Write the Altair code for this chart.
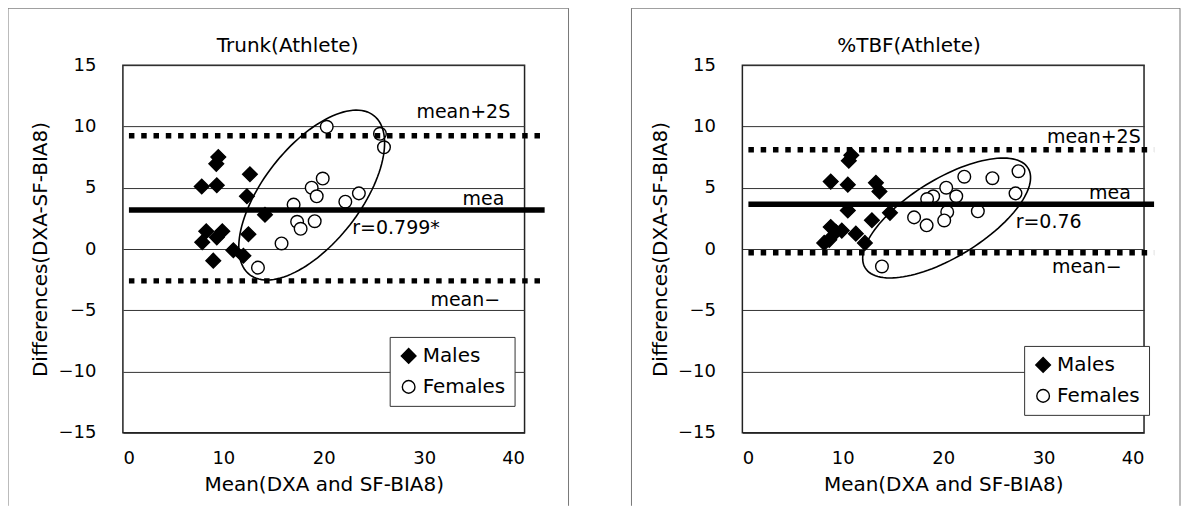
import altair as alt
import numpy as np
import pandas as pd

FONT = "DejaVu Sans"
W, H = 402, 368
X_DOMAIN = [0, 40]
Y_DOMAIN = [-15, 15]
X_TICKS = [0, 10, 20, 30, 40]
Y_TICKS = [-15, -10, -5, 0, 5, 10, 15]
SEX = ["Males", "Females"]

# ---- Trunk(Athlete) ----
trunk_title = "Trunk(Athlete)"
trunk_title_pos = (16.4, 16.6)
trunk_male_x = [7.85, 9.35, 9.3, 9.5, 12.65, 12.35, 14.15, 12.5, 8.3, 7.9, 9.35, 9.9, 9.0, 11.0, 12.0]
trunk_male_y = [5.1, 5.2, 6.95, 7.5, 6.1, 4.3, 2.8, 1.2, 1.45, 0.55, 0.95, 1.45, -0.95, -0.1, -0.55]
trunk_female_x = [20.3, 25.6, 26.0, 19.9, 18.8, 19.3, 17.0, 22.15, 23.5, 17.35, 17.7, 19.1, 15.8, 13.45]
trunk_female_y = [9.97, 9.4, 8.3, 5.75, 5.0, 4.3, 3.62, 3.86, 4.54, 2.22, 1.65, 2.27, 0.45, -1.52]
trunk_mean, trunk_upper, trunk_lower = 3.18, 9.25, -2.6
trunk_notes = ["mean+2S", "mea", "mean\u2212", "r=0.799*"]
trunk_note_x = [33.9, 35.9, 34.1, 27.2]
trunk_note_y = [11.15, 4.1, -4.13, 1.72]

# ---- %TBF(Athlete) ----
tbf_title = "%TBF(Athlete)"
tbf_title_pos = (16.6, 16.6)
tbf_male_x = [8.8, 10.5, 10.6, 10.85, 13.3, 13.65, 10.5, 14.7, 12.9, 8.8, 9.3, 9.9, 11.3, 8.15, 8.65, 12.2]
tbf_male_y = [5.5, 5.25, 7.2, 7.65, 5.4, 4.7, 3.15, 2.95, 2.35, 1.8, 1.4, 1.5, 1.25, 0.5, 0.75, 0.5]
tbf_female_x = [27.5, 24.9, 22.1, 20.3, 21.3, 19.0, 18.4, 27.2, 20.4, 20.1, 23.45, 17.1, 18.35, 13.9]
tbf_female_y = [6.35, 5.78, 5.9, 5.0, 4.3, 4.3, 4.08, 4.54, 3.02, 2.33, 3.08, 2.58, 1.93, -1.42]
tbf_mean, tbf_upper, tbf_lower = 3.65, 8.1, -0.3
tbf_notes = ["mean+2S", "mea", "mean\u2212", "r=0.76"]
tbf_note_x = [35.0, 36.6, 34.3, 30.5]
tbf_note_y = [9.12, 4.58, -1.5, 2.23]


def ellipse_df(cx, cy, a_px, b_px, angle_deg):
    t = np.linspace(0, 2 * np.pi, 121)
    th = np.deg2rad(angle_deg)
    dx = a_px * np.cos(t) * np.cos(th) - b_px * np.sin(t) * np.sin(th)
    dy = a_px * np.cos(t) * np.sin(th) + b_px * np.sin(t) * np.cos(th)
    return pd.DataFrame({"x": cx + dx / (W / 40.0), "y": cy + dy / (H / 30.0), "o": np.arange(len(t))})


def panel(title, title_pos, mx, my, fx, fy, mean, upper, lower, line_x0, line_x1,
          notes, note_x, note_y, ell, leg_x, leg_y, frame_l, frame_r):
    xs = alt.Scale(domain=X_DOMAIN, nice=False, zero=False)
    ys = alt.Scale(domain=Y_DOMAIN, nice=False, zero=False)
    xaxis = alt.Axis(values=X_TICKS, title="Mean(DXA and SF-BIA8)", grid=False, ticks=False,
                     domain=False, labelPadding=17, titlePadding=7)
    yaxis = alt.Axis(values=Y_TICKS, title="Differences(DXA-SF-BIA8)", grid=True, ticks=False,
                     domain=False, labelPadding=27, titlePadding=7)

    def X(f):
        return alt.X(f, scale=xs, axis=xaxis, title="Mean(DXA and SF-BIA8)")

    def Y(f):
        return alt.Y(f, scale=ys, axis=yaxis, title="Differences(DXA-SF-BIA8)")

    pts = pd.DataFrame({
        "x": list(mx) + list(fx),
        "y": list(my) + list(fy),
        "Sex": ["Males"] * len(mx) + ["Females"] * len(fx),
    })
    leg = alt.Legend(title=None, orient="none", legendX=leg_x, legendY=leg_y,
                     direction="vertical", symbolStrokeColor="black", symbolStrokeWidth=1.4)
    points = alt.Chart(pts).mark_point(filled=True, strokeWidth=1.4, opacity=1).encode(
        x=X("x:Q"), y=Y("y:Q"),
        shape=alt.Shape("Sex:N", scale=alt.Scale(domain=SEX, range=["diamond", "circle"]), legend=leg),
        fill=alt.Fill("Sex:N", scale=alt.Scale(domain=SEX, range=["black", "white"]), legend=leg),
        stroke=alt.Stroke("Sex:N", scale=alt.Scale(domain=SEX, range=["black", "black"]), legend=leg),
        size=alt.Size("Sex:N", scale=alt.Scale(domain=SEX, range=[215, 160]), legend=leg),
    )

    lim = pd.DataFrame({"y": [upper, lower], "x": [line_x0, line_x0], "x1": [line_x1, line_x1]})
    limits = alt.Chart(lim).mark_rule(color="black", strokeWidth=5.5, strokeDash=[5.5, 6.8],
                                      strokeCap="butt").encode(x=X("x:Q"), x2="x1:Q", y=Y("y:Q"))
    mn = pd.DataFrame({"y": [mean], "x": [line_x0], "x1": [line_x1]})
    mean_line = alt.Chart(mn).mark_rule(color="black", strokeWidth=5.5).encode(
        x=X("x:Q"), x2="x1:Q", y=Y("y:Q"))

    ell_line = alt.Chart(ellipse_df(*ell)).mark_line(color="black", strokeWidth=1.6).encode(
        x=X("x:Q"), y=Y("y:Q"), order="o:Q")

    nt = pd.DataFrame({"t": notes, "x": note_x, "y": note_y})
    texts = alt.Chart(nt).mark_text(font=FONT, fontSize=19, color="black", align="center",
                                    baseline="middle").encode(x=X("x:Q"), y=Y("y:Q"), text="t:N")

    tt = pd.DataFrame({"t": [title], "x": [title_pos[0]], "y": [title_pos[1]]})
    title_mark = alt.Chart(tt).mark_text(font=FONT, fontSize=20, color="black", align="center",
                                         baseline="middle").encode(x=X("x:Q"), y=Y("y:Q"), text="t:N")

    one = pd.DataFrame({"k": [0]})
    fr = dict(color="#777", strokeWidth=1)
    f_left = alt.Chart(one).mark_rule(**fr).encode(
        x=alt.value(frame_l), y=alt.value(-57), y2=alt.value(441))
    f_top = alt.Chart(one).mark_rule(**fr).encode(
        x=alt.value(frame_l), x2=alt.value(frame_r), y=alt.value(-57))
    f_right = alt.Chart(one).mark_rule(**fr).encode(
        x=alt.value(frame_r), y=alt.value(-57), y2=alt.value(441))

    return alt.layer(points, ell_line, limits, mean_line, texts, title_mark,
                     f_left, f_top, f_right).properties(width=W, height=H)


left = panel(trunk_title, trunk_title_pos, trunk_male_x, trunk_male_y, trunk_female_x, trunk_female_y,
             trunk_mean, trunk_upper, trunk_lower, 0.6, 42.0,
             trunk_notes, trunk_note_x, trunk_note_y,
             (18.8, 4.4, 101, 48.5, 52), 267, 272, -115, 446)
right = panel(tbf_title, tbf_title_pos, tbf_male_x, tbf_male_y, tbf_female_x, tbf_female_y,
              tbf_mean, tbf_upper, tbf_lower, 0.6, 41.0,
              tbf_notes, tbf_note_x, tbf_note_y,
              (20.34, 2.53, 95.6, 39, 31.5), 282, 281, -111, 438)

chart = alt.hconcat(left, right, spacing=59).resolve_scale(
    x="independent", y="independent", shape="independent", fill="independent",
    stroke="independent", size="independent"
).resolve_legend(shape="independent", fill="independent", stroke="independent",
                 size="independent").properties(
    padding={"left": -2, "top": -2, "right": 0, "bottom": 0}
).configure_view(
    stroke="#222", strokeWidth=1.5
).configure_axis(
    labelFont=FONT, labelFontSize=18, labelColor="black",
    titleFont=FONT, titleFontSize=20, titleFontWeight="normal", titleColor="black",
    gridColor="#333", gridWidth=1
).configure_legend(
    labelFont=FONT, labelFontSize=20, labelColor="black",
    symbolStrokeColor="black", symbolStrokeWidth=1.4, strokeColor="#333", fillColor="white",
    padding=9, rowPadding=10, labelOffset=4, cornerRadius=0
)

chart.save("out.html", embed_options={"renderer": "svg", "actions": False})
